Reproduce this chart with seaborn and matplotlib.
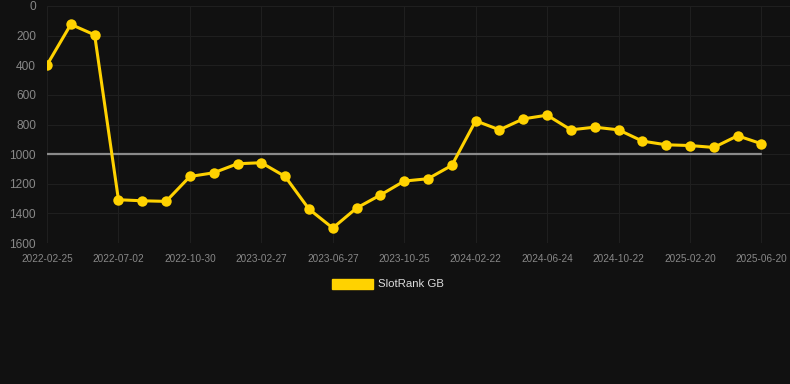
import matplotlib
matplotlib.use("Agg")
import matplotlib.pyplot as plt
from matplotlib.patches import Patch
import seaborn as sns
import pandas as pd

tick_labels = ["2022-02-25", "2022-07-02", "2022-10-30", "2023-02-27", "2023-06-27",
               "2023-10-25", "2024-02-22", "2024-06-24", "2024-10-22", "2025-02-20",
               "2025-06-20"]
ranks = [398, 124, 195, 1308, 1315, 1319, 1151, 1126, 1065, 1058, 1151, 1371, 1499,
         1364, 1276, 1182, 1166, 1076, 775, 836, 762, 737, 836, 818, 836, 912, 937,
         942, 955, 876, 930]
series_name = "SlotRank GB"
threshold = 1000
y_ticks = [0, 200, 400, 600, 800, 1000, 1200, 1400, 1600]

df = pd.DataFrame({"idx": list(range(len(ranks))), "rank": ranks})

sns.set_style("dark")
bg = "#111111"
plt.rcParams["font.family"] = ["Liberation Sans", "DejaVu Sans"]

fig = plt.figure(figsize=(7.9, 3.84), dpi=100, facecolor=bg)
ax = fig.add_axes([47 / 790, 1 - 243 / 384, 1 - 47 / 790, 237 / 384])
ax.set_facecolor(bg)

gold = "#FFD200"
ax.plot([0, len(ranks) - 1], [threshold, threshold], color="#8a8a8a", lw=1.6, zorder=2)
sns.lineplot(data=df, x="idx", y="rank", ax=ax, color=gold, lw=2.2, marker="o",
             markersize=7.5, markeredgewidth=0, zorder=3)

ax.set_xlim(0, 31.2)
ax.set_ylim(1600, 0)
ax.set_yticks(y_ticks)
ax.set_yticklabels([str(v) for v in y_ticks])
ax.set_xticks(list(range(0, len(ranks), 3)))
ax.set_xticklabels(tick_labels)
ax.set_xlabel("")
ax.set_ylabel("")
ax.grid(True, color="#1f1f1f", lw=0.8)
ax.set_axisbelow(True)
for s in ax.spines.values():
    s.set_visible(False)
ax.tick_params(axis="y", colors="#888888", labelsize=8.6, length=0, pad=8)
ax.tick_params(axis="x", colors="#888888", labelsize=7.2, length=0, pad=8)

handle = Patch(facecolor=gold, edgecolor=gold)
leg = fig.legend([handle], [series_name], loc="center", bbox_to_anchor=(388 / 790, 1 - 284 / 384),
                 frameon=False, fontsize=8.2, handlelength=3.6, handleheight=1.0,
                 handletextpad=0.5, labelcolor="#dddddd")

fig.savefig("out.png", dpi=100, facecolor=bg)
